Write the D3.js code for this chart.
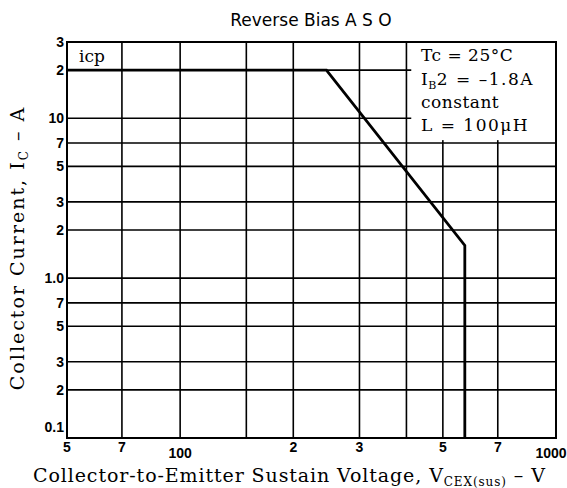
<!DOCTYPE html>
<html>
<head>
<meta charset="utf-8">
<script src="https://cdnjs.cloudflare.com/ajax/libs/d3/7.8.5/d3.min.js"></script>
<style>
  body { margin: 0; background: #fff; }
  svg { display: block; }
  .tick-label { font-family: "Liberation Sans Narrow", "Liberation Sans", Arial, sans-serif; font-weight: bold; font-size: 14px; }
  .serif { font-family: "DejaVu Serif", "Liberation Serif", serif; }
</style>
</head>
<body>
<div id="chart"></div>
<script>
// Valores (eixos log-log)
var xGrid = [70, 100, 150, 200, 300, 400, 500, 700];
var xTicks = [50, 70, 100, 200, 300, 500, 700, 1000];
var xTickLabels = ["5", "7", "100", "2", "3", "5", "7", "1000"];

var yGrid = [20, 10, 7, 5, 3, 2, 1, 0.7, 0.5, 0.3, 0.2];
var yTicks = [30, 20, 10, 7, 5, 3, 2, 1, 0.7, 0.5, 0.3, 0.2, 0.1];
var yTickLabels = ["3", "2", "10", "7", "5", "3", "2", "1.0", "7", "5", "3", "2", "0.1"];

// Curva da área de operação segura (V, A)
var curveV = [50, 245, 572, 572];
var curveI = [20, 20, 1.6, 0.1];

var drawChart = function () {
  var width = 567, height = 488;
  var mLeft = 67, mRight = 556, mTop = 42, mBottom = 438;

  var svg = d3.select("#chart").append("svg")
    .attr("width", width)
    .attr("height", height);

  var x = d3.scaleLog().domain([50, 1000]).range([mLeft, mRight]);
  var y = d3.scaleLog().domain([0.1, 30]).range([mBottom, mTop]);

  // Grade
  svg.append("g").selectAll("line")
    .data(xGrid).enter().append("line")
    .attr("x1", function (d) { return x(d); })
    .attr("x2", function (d) { return x(d); })
    .attr("y1", y(30)).attr("y2", y(0.1))
    .attr("stroke", "#000").attr("stroke-width", 1.6);

  svg.append("g").selectAll("line")
    .data(yGrid).enter().append("line")
    .attr("x1", x(50)).attr("x2", x(1000))
    .attr("y1", function (d) { return y(d); })
    .attr("y2", function (d) { return y(d); })
    .attr("stroke", "#000").attr("stroke-width", 1.6);

  // Caixa das condições (cobre a grade)
  svg.append("rect")
    .attr("x", x(412)).attr("y", y(30))
    .attr("width", x(1000) - x(412))
    .attr("height", y(7.3) - y(30))
    .attr("fill", "#fff");

  // Moldura
  svg.append("rect")
    .attr("x", x(50)).attr("y", y(30))
    .attr("width", x(1000) - x(50))
    .attr("height", y(0.1) - y(30))
    .attr("fill", "none")
    .attr("stroke", "#000").attr("stroke-width", 2);

  // Curva
  var pts = curveV.map(function (v, i) { return [v, curveI[i]]; });
  svg.append("path")
    .datum(pts)
    .attr("d", d3.line()
      .x(function (d) { return x(d[0]); })
      .y(function (d) { return y(d[1]); }))
    .attr("fill", "none")
    .attr("stroke", "#000")
    .attr("stroke-width", 2.8);

  // Rótulos dos eixos
  svg.append("g").selectAll("text")
    .data(xTicks).enter().append("text")
    .attr("class", "tick-label")
    .attr("x", function (d) { return d === 1000 ? x(d) - 5 : x(d); })
    .attr("y", function (d, i) { return xTickLabels[i].length > 1 ? mBottom + 20 : mBottom + 14; })
    .attr("text-anchor", "middle")
    .text(function (d, i) { return xTickLabels[i]; });

  svg.append("g").selectAll("text")
    .data(yTicks).enter().append("text")
    .attr("class", "tick-label")
    .attr("x", mLeft - 3)
    .attr("y", function (d) { return d === 0.1 ? y(d) - 11 : y(d); })
    .attr("dy", "0.35em")
    .attr("text-anchor", "end")
    .text(function (d, i) { return yTickLabels[i]; });

  // Título
  svg.append("text")
    .attr("x", 311).attr("y", 26)
    .attr("text-anchor", "middle")
    .style("font-family", "'DejaVu Sans', sans-serif")
    .style("font-size", "17px")
    .text("Reverse Bias A S O");

  svg.append("text")
    .attr("class", "serif")
    .attr("x", 79).attr("y", 62)
    .style("font-size", "17px")
    .text("icp");

  // Condições de teste
  var notes = svg.append("g").attr("class", "serif")
    .style("font-size", "17px")
    .style("letter-spacing", "0.5px");
  notes.append("text").attr("x", 421).attr("y", 61).text("Tc = 25°C");
  var ib = notes.append("text").attr("x", 421).attr("y", 85);
  ib.append("tspan").text("I");
  ib.append("tspan").attr("dy", 4).style("font-size", "11px").text("B");
  ib.append("tspan").attr("dy", -4).style("letter-spacing", "1.5px").text("2 = –1.8A");
  notes.append("text").attr("x", 421).attr("y", 108).text("constant");
  notes.append("text").attr("x", 421).attr("y", 131).style("letter-spacing", "1.5px").text("L = 100μH");

  // Títulos dos eixos
  var xt = svg.append("text")
    .attr("class", "serif")
    .attr("x", 33).attr("y", 482)
    .style("font-size", "19px")
    .style("letter-spacing", "0.9px");
  xt.append("tspan").text("Collector-to-Emitter Sustain Voltage, V");
  xt.append("tspan").attr("dy", 4).style("font-size", "12px").text("CEX(sus)");
  xt.append("tspan").attr("dy", -4).text(" – V");

  var yt = svg.append("text")
    .attr("class", "serif")
    .attr("transform", "translate(24,248) rotate(-90)")
    .attr("text-anchor", "middle")
    .style("font-size", "19px")
    .style("letter-spacing", "2px");
  yt.append("tspan").text("Collector Current, I");
  yt.append("tspan").attr("dy", 4).style("font-size", "12px").text("C");
  yt.append("tspan").attr("dy", -4).text(" – A");
};

drawChart();
</script>
</body>
</html>
